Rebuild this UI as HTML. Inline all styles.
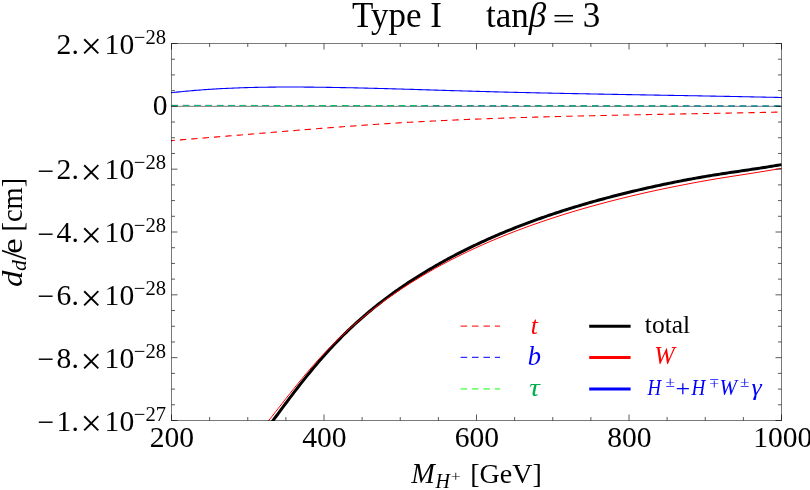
<!DOCTYPE html>
<html><head><meta charset="utf-8"><title>plot</title>
<style>
html,body{margin:0;padding:0;background:#fff;overflow:hidden}
svg{display:block;will-change:transform}
text{font-family:"Liberation Serif",serif;fill:#000}
.i{font-style:italic}
</style></head><body>
<svg width="810" height="490" viewBox="0 0 810 490">
<rect x="0" y="0" width="810" height="490" fill="#fff"/>
<defs><clipPath id="cp"><rect x="171.00" y="43.00" width="611.00" height="378.00"/></clipPath></defs>

<g clip-path="url(#cp)" fill="none">
<line x1="171.50" y1="106.33" x2="781.50" y2="106.33" stroke="#000" stroke-opacity="0.52" stroke-width="1"/>
<polyline points="171.00,92.76 173.00,92.53 175.00,92.32 177.00,92.10 179.00,91.89 181.00,91.69 183.00,91.49 185.00,91.30 187.00,91.11 189.00,90.93 191.00,90.76 193.00,90.58 195.00,90.42 197.00,90.25 199.00,90.10 201.00,89.94 203.00,89.80 205.00,89.65 207.00,89.51 209.00,89.38 211.00,89.25 213.00,89.12 215.00,89.00 217.00,88.88 219.00,88.77 221.00,88.66 223.00,88.56 225.00,88.46 227.00,88.36 229.00,88.27 231.00,88.18 233.00,88.09 235.00,88.01 237.00,87.94 239.00,87.86 241.00,87.79 243.00,87.72 245.00,87.66 247.00,87.60 249.00,87.54 251.00,87.49 253.00,87.44 255.00,87.39 257.00,87.35 259.00,87.31 261.00,87.27 263.00,87.24 265.00,87.21 267.00,87.18 269.00,87.15 271.00,87.13 273.00,87.11 275.00,87.09 277.00,87.07 279.00,87.06 281.00,87.05 283.00,87.04 285.00,87.03 287.00,87.03 289.00,87.03 291.00,87.03 293.00,87.03 295.00,87.04 297.00,87.04 299.00,87.05 301.00,87.06 303.00,87.07 305.00,87.09 307.00,87.10 309.00,87.12 311.00,87.14 313.00,87.16 315.00,87.18 317.00,87.20 319.00,87.23 321.00,87.25 323.00,87.28 325.00,87.31 327.00,87.34 329.00,87.37 331.00,87.40 333.00,87.43 335.00,87.47 337.00,87.50 339.00,87.54 341.00,87.58 343.00,87.61 345.00,87.65 347.00,87.69 349.00,87.74 351.00,87.78 353.00,87.82 355.00,87.86 357.00,87.91 359.00,87.95 361.00,88.00 363.00,88.05 365.00,88.10 367.00,88.14 369.00,88.19 371.00,88.24 373.00,88.29 375.00,88.35 377.00,88.40 379.00,88.45 381.00,88.50 383.00,88.56 385.00,88.61 387.00,88.67 389.00,88.72 391.00,88.78 393.00,88.84 395.00,88.89 397.00,88.95 399.00,89.01 401.00,89.07 403.00,89.13 405.00,89.18 407.00,89.24 409.00,89.30 411.00,89.36 413.00,89.42 415.00,89.48 417.00,89.54 419.00,89.60 421.00,89.66 423.00,89.73 425.00,89.79 427.00,89.85 429.00,89.91 431.00,89.97 433.00,90.03 435.00,90.09 437.00,90.15 439.00,90.22 441.00,90.28 443.00,90.34 445.00,90.40 447.00,90.46 449.00,90.52 451.00,90.58 453.00,90.64 455.00,90.70 457.00,90.76 459.00,90.82 461.00,90.88 463.00,90.94 465.00,91.00 467.00,91.06 469.00,91.12 471.00,91.17 473.00,91.23 475.00,91.29 477.00,91.34 479.00,91.40 481.00,91.46 483.00,91.51 485.00,91.57 487.00,91.62 489.00,91.67 491.00,91.73 493.00,91.78 495.00,91.83 497.00,91.88 499.00,91.93 501.00,91.99 503.00,92.04 505.00,92.09 507.00,92.14 509.00,92.19 511.00,92.23 513.00,92.28 515.00,92.33 517.00,92.38 519.00,92.43 521.00,92.47 523.00,92.52 525.00,92.57 527.00,92.61 529.00,92.66 531.00,92.71 533.00,92.75 535.00,92.80 537.00,92.84 539.00,92.88 541.00,92.93 543.00,92.97 545.00,93.01 547.00,93.06 549.00,93.10 551.00,93.14 553.00,93.18 555.00,93.23 557.00,93.27 559.00,93.31 561.00,93.35 563.00,93.39 565.00,93.43 567.00,93.47 569.00,93.51 571.00,93.55 573.00,93.59 575.00,93.63 577.00,93.67 579.00,93.71 581.00,93.75 583.00,93.79 585.00,93.82 587.00,93.86 589.00,93.90 591.00,93.94 593.00,93.98 595.00,94.01 597.00,94.05 599.00,94.09 601.00,94.12 603.00,94.16 605.00,94.20 607.00,94.23 609.00,94.27 611.00,94.31 613.00,94.34 615.00,94.38 617.00,94.41 619.00,94.45 621.00,94.49 623.00,94.52 625.00,94.56 627.00,94.59 629.00,94.63 631.00,94.66 633.00,94.70 635.00,94.73 637.00,94.77 639.00,94.80 641.00,94.84 643.00,94.87 645.00,94.91 647.00,94.94 649.00,94.98 651.00,95.01 653.00,95.05 655.00,95.08 657.00,95.12 659.00,95.15 661.00,95.19 663.00,95.22 665.00,95.26 667.00,95.29 669.00,95.33 671.00,95.36 673.00,95.40 675.00,95.43 677.00,95.47 679.00,95.50 681.00,95.54 683.00,95.57 685.00,95.61 687.00,95.64 689.00,95.68 691.00,95.72 693.00,95.75 695.00,95.79 697.00,95.82 699.00,95.86 701.00,95.89 703.00,95.93 705.00,95.97 707.00,96.00 709.00,96.04 711.00,96.08 713.00,96.11 715.00,96.15 717.00,96.19 719.00,96.23 721.00,96.26 723.00,96.30 725.00,96.34 727.00,96.38 729.00,96.42 731.00,96.45 733.00,96.49 735.00,96.53 737.00,96.57 739.00,96.61 741.00,96.65 743.00,96.69 745.00,96.73 747.00,96.77 749.00,96.81 751.00,96.85 753.00,96.89 755.00,96.93 757.00,96.97 759.00,97.01 761.00,97.06 763.00,97.10 765.00,97.14 767.00,97.18 769.00,97.23 771.00,97.27 773.00,97.31 775.00,97.36 777.00,97.40 779.00,97.45 782.00,97.52" stroke="#00f" stroke-width="1.1"/>
<line x1="171.50" y1="105.38" x2="781.50" y2="106.0" stroke="#00f" stroke-width="1.0" stroke-dasharray="6.4 4.965"/>
<line x1="171.50" y1="105.45" x2="781.50" y2="106.05" stroke="#08d450" stroke-width="1.15" stroke-dasharray="6.4 4.965" opacity="0.9"/>
<polyline points="171.00,140.62 173.00,140.46 175.00,140.30 177.00,140.15 179.00,139.99 181.00,139.83 183.00,139.67 185.00,139.51 187.00,139.35 189.00,139.19 191.00,139.03 193.00,138.87 195.00,138.71 197.00,138.55 199.00,138.39 201.00,138.23 203.00,138.06 205.00,137.90 207.00,137.74 209.00,137.57 211.00,137.41 213.00,137.24 215.00,137.08 217.00,136.92 219.00,136.75 221.00,136.59 223.00,136.42 225.00,136.25 227.00,136.09 229.00,135.92 231.00,135.76 233.00,135.59 235.00,135.42 237.00,135.26 239.00,135.09 241.00,134.93 243.00,134.76 245.00,134.59 247.00,134.43 249.00,134.26 251.00,134.09 253.00,133.93 255.00,133.76 257.00,133.59 259.00,133.43 261.00,133.26 263.00,133.09 265.00,132.93 267.00,132.76 269.00,132.60 271.00,132.43 273.00,132.27 275.00,132.10 277.00,131.94 279.00,131.77 281.00,131.61 283.00,131.44 285.00,131.28 287.00,131.11 289.00,130.95 291.00,130.79 293.00,130.62 295.00,130.46 297.00,130.30 299.00,130.14 301.00,129.98 303.00,129.82 305.00,129.66 307.00,129.50 309.00,129.34 311.00,129.18 313.00,129.02 315.00,128.86 317.00,128.70 319.00,128.55 321.00,128.39 323.00,128.23 325.00,128.08 327.00,127.92 329.00,127.77 331.00,127.62 333.00,127.46 335.00,127.31 337.00,127.16 339.00,127.01 341.00,126.86 343.00,126.71 345.00,126.56 347.00,126.41 349.00,126.27 351.00,126.12 353.00,125.98 355.00,125.83 357.00,125.69 359.00,125.54 361.00,125.40 363.00,125.26 365.00,125.12 367.00,124.98 369.00,124.84 371.00,124.70 373.00,124.57 375.00,124.43 377.00,124.30 379.00,124.16 381.00,124.03 383.00,123.90 385.00,123.77 387.00,123.64 389.00,123.51 391.00,123.38 393.00,123.26 395.00,123.13 397.00,123.01 399.00,122.88 401.00,122.76 403.00,122.65 405.00,122.53 407.00,122.42 409.00,122.31 411.00,122.19 413.00,122.08 415.00,121.97 417.00,121.87 419.00,121.76 421.00,121.65 423.00,121.55 425.00,121.44 427.00,121.34 429.00,121.24 431.00,121.14 433.00,121.04 435.00,120.94 437.00,120.84 439.00,120.74 441.00,120.65 443.00,120.55 445.00,120.46 447.00,120.37 449.00,120.27 451.00,120.18 453.00,120.09 455.00,120.00 457.00,119.92 459.00,119.83 461.00,119.74 463.00,119.66 465.00,119.57 467.00,119.49 469.00,119.41 471.00,119.33 473.00,119.25 475.00,119.17 477.00,119.09 479.00,119.01 481.00,118.93 483.00,118.85 485.00,118.78 487.00,118.70 489.00,118.63 491.00,118.56 493.00,118.48 495.00,118.41 497.00,118.34 499.00,118.27 501.00,118.20 503.00,118.13 505.00,118.07 507.00,118.00 509.00,117.93 511.00,117.87 513.00,117.80 515.00,117.74 517.00,117.67 519.00,117.61 521.00,117.55 523.00,117.49 525.00,117.43 527.00,117.37 529.00,117.31 531.00,117.25 533.00,117.19 535.00,117.13 537.00,117.08 539.00,117.02 541.00,116.96 543.00,116.91 545.00,116.86 547.00,116.80 549.00,116.75 551.00,116.70 553.00,116.64 555.00,116.59 557.00,116.54 559.00,116.49 561.00,116.44 563.00,116.39 565.00,116.34 567.00,116.29 569.00,116.25 571.00,116.20 573.00,116.15 575.00,116.10 577.00,116.06 579.00,116.01 581.00,115.97 583.00,115.92 585.00,115.88 587.00,115.84 589.00,115.79 591.00,115.75 593.00,115.71 595.00,115.66 597.00,115.62 599.00,115.58 601.00,115.54 603.00,115.49 605.00,115.45 607.00,115.41 609.00,115.36 611.00,115.32 613.00,115.28 615.00,115.23 617.00,115.19 619.00,115.15 621.00,115.11 623.00,115.07 625.00,115.03 627.00,114.99 629.00,114.94 631.00,114.90 633.00,114.86 635.00,114.82 637.00,114.78 639.00,114.75 641.00,114.71 643.00,114.67 645.00,114.63 647.00,114.59 649.00,114.55 651.00,114.51 653.00,114.48 655.00,114.44 657.00,114.40 659.00,114.36 661.00,114.33 663.00,114.29 665.00,114.25 667.00,114.21 669.00,114.18 671.00,114.14 673.00,114.10 675.00,114.07 677.00,114.03 679.00,113.99 681.00,113.96 683.00,113.92 685.00,113.88 687.00,113.85 689.00,113.81 691.00,113.78 693.00,113.74 695.00,113.70 697.00,113.67 699.00,113.63 701.00,113.59 703.00,113.56 705.00,113.52 707.00,113.49 709.00,113.45 711.00,113.41 713.00,113.38 715.00,113.34 717.00,113.30 719.00,113.27 721.00,113.23 723.00,113.19 725.00,113.15 727.00,113.12 729.00,113.08 731.00,113.04 733.00,113.00 735.00,112.97 737.00,112.93 739.00,112.89 741.00,112.85 743.00,112.81 745.00,112.77 747.00,112.74 749.00,112.70 751.00,112.66 753.00,112.62 755.00,112.58 757.00,112.54 759.00,112.50 761.00,112.46 763.00,112.42 765.00,112.38 767.00,112.33 769.00,112.29 771.00,112.25 773.00,112.21 775.00,112.17 777.00,112.12 779.00,112.08 782.00,112.01" stroke="#f00" stroke-width="1.1" stroke-dasharray="6.4 4.985" stroke-dashoffset="2.5"/>
<polyline points="262.00,435.41 264.00,432.74 266.00,430.05 268.00,427.35 270.00,424.64 272.00,421.93 274.00,419.21 276.00,416.50 278.00,413.79 280.00,411.09 282.00,408.39 284.00,405.70 286.00,403.02 288.00,400.35 290.00,397.70 292.00,395.07 294.00,392.44 296.00,389.84 298.00,387.26 300.00,384.70 302.00,382.15 304.00,379.63 306.00,377.13 308.00,374.66 310.00,372.21 312.00,369.78 314.00,367.38 316.00,365.00 318.00,362.65 320.00,360.33 322.00,358.03 324.00,355.76 326.00,353.52 328.00,351.30 330.00,349.11 332.00,346.95 334.00,344.81 336.00,342.71 338.00,340.63 340.00,338.58 342.00,336.55 344.00,334.56 346.00,332.59 348.00,330.65 350.00,328.73 352.00,326.85 354.00,324.99 356.00,323.15 358.00,321.34 360.00,319.56 362.00,317.80 364.00,316.06 366.00,314.35 368.00,312.65 370.00,310.99 372.00,309.34 374.00,307.71 376.00,306.10 378.00,304.52 380.00,302.95 382.00,301.40 384.00,299.87 386.00,298.36 388.00,296.87 390.00,295.39 392.00,293.94 394.00,292.49 396.00,291.07 398.00,289.66 400.00,288.27 402.00,286.89 404.00,285.53 406.00,284.18 408.00,282.85 410.00,281.53 412.00,280.23 414.00,278.94 416.00,277.66 418.00,276.40 420.00,275.15 422.00,273.92 424.00,272.69 426.00,271.48 428.00,270.28 430.00,269.10 432.00,267.92 434.00,266.76 436.00,265.60 438.00,264.46 440.00,263.33 442.00,262.21 444.00,261.11 446.00,260.01 448.00,258.92 450.00,257.84 452.00,256.78 454.00,255.72 456.00,254.68 458.00,253.64 460.00,252.61 462.00,251.60 464.00,250.59 466.00,249.59 468.00,248.60 470.00,247.62 472.00,246.65 474.00,245.69 476.00,244.74 478.00,243.80 480.00,242.86 482.00,241.94 484.00,241.02 486.00,240.11 488.00,239.21 490.00,238.32 492.00,237.44 494.00,236.56 496.00,235.69 498.00,234.84 500.00,233.98 502.00,233.14 504.00,232.30 506.00,231.48 508.00,230.65 510.00,229.84 512.00,229.04 514.00,228.24 516.00,227.44 518.00,226.66 520.00,225.88 522.00,225.11 524.00,224.35 526.00,223.59 528.00,222.84 530.00,222.10 532.00,221.36 534.00,220.63 536.00,219.91 538.00,219.19 540.00,218.48 542.00,217.77 544.00,217.07 546.00,216.38 548.00,215.69 550.00,215.01 552.00,214.34 554.00,213.67 556.00,213.01 558.00,212.35 560.00,211.70 562.00,211.05 564.00,210.41 566.00,209.78 568.00,209.15 570.00,208.52 572.00,207.90 574.00,207.29 576.00,206.68 578.00,206.08 580.00,205.48 582.00,204.89 584.00,204.30 586.00,203.71 588.00,203.14 590.00,202.56 592.00,201.99 594.00,201.43 596.00,200.87 598.00,200.32 600.00,199.77 602.00,199.22 604.00,198.68 606.00,198.14 608.00,197.61 610.00,197.08 612.00,196.56 614.00,196.04 616.00,195.52 618.00,195.01 620.00,194.51 622.00,194.00 624.00,193.51 626.00,193.01 628.00,192.52 630.00,192.03 632.00,191.55 634.00,191.07 636.00,190.60 638.00,190.13 640.00,189.66 642.00,189.19 644.00,188.73 646.00,188.28 648.00,187.83 650.00,187.38 652.00,186.93 654.00,186.49 656.00,186.05 658.00,185.62 660.00,185.19 662.00,184.77 664.00,184.34 666.00,183.93 668.00,183.51 670.00,183.10 672.00,182.70 674.00,182.29 676.00,181.90 678.00,181.50 680.00,181.11 682.00,180.72 684.00,180.34 686.00,179.96 688.00,179.59 690.00,179.22 692.00,178.85 694.00,178.49 696.00,178.13 698.00,177.77 700.00,177.42 702.00,177.07 704.00,176.73 706.00,176.39 708.00,176.05 710.00,175.72 712.00,175.39 714.00,175.07 716.00,174.75 718.00,174.43 720.00,174.11 722.00,173.80 724.00,173.50 726.00,173.19 728.00,172.89 730.00,172.59 732.00,172.29 734.00,172.00 736.00,171.70 738.00,171.41 740.00,171.11 742.00,170.82 744.00,170.52 746.00,170.23 748.00,169.93 750.00,169.63 752.00,169.33 754.00,169.03 756.00,168.73 758.00,168.42 760.00,168.12 762.00,167.81 764.00,167.49 766.00,167.18 768.00,166.86 770.00,166.54 772.00,166.21 774.00,165.88 776.00,165.55 778.00,165.21 780.00,164.87 781.50,164.61" stroke="#000" stroke-width="3"/>
<polyline points="262.00,428.90 264.00,426.42 266.00,423.93 268.00,421.42 270.00,418.90 272.00,416.38 274.00,413.83 276.00,411.26 278.00,408.70 280.00,406.13 282.00,403.57 284.00,401.02 286.00,398.47 288.00,395.93 290.00,393.41 292.00,390.90 294.00,388.40 296.00,385.91 298.00,383.45 300.00,381.00 302.00,378.57 304.00,376.16 306.00,373.77 308.00,371.40 310.00,369.06 312.00,366.76 314.00,364.51 316.00,362.29 318.00,360.09 320.00,357.92 322.00,355.77 324.00,353.64 326.00,351.54 328.00,349.47 330.00,347.42 332.00,345.40 334.00,343.40 336.00,341.43 338.00,339.48 340.00,337.56 342.00,335.67 344.00,333.80 346.00,331.96 348.00,330.14 350.00,328.35 352.00,326.59 354.00,324.85 356.00,323.12 358.00,321.40 360.00,319.71 362.00,318.03 364.00,316.38 366.00,314.75 368.00,313.15 370.00,311.56 372.00,309.99 374.00,308.44 376.00,306.91 378.00,305.40 380.00,303.90 382.00,302.43 384.00,300.97 386.00,299.53 388.00,298.10 390.00,296.69 392.00,295.29 394.00,293.92 396.00,292.55 398.00,291.20 400.00,289.87 402.00,288.54 404.00,287.23 406.00,285.93 408.00,284.65 410.00,283.37 412.00,282.11 414.00,280.87 416.00,279.63 418.00,278.41 420.00,277.20 422.00,276.00 424.00,274.82 426.00,273.64 428.00,272.47 430.00,271.32 432.00,270.18 434.00,269.04 436.00,267.92 438.00,266.81 440.00,265.71 442.00,264.63 444.00,263.56 446.00,262.51 448.00,261.46 450.00,260.42 452.00,259.39 454.00,258.37 456.00,257.36 458.00,256.36 460.00,255.37 462.00,254.38 464.00,253.41 466.00,252.44 468.00,251.49 470.00,250.54 472.00,249.60 474.00,248.67 476.00,247.75 478.00,246.84 480.00,245.93 482.00,245.04 484.00,244.15 486.00,243.27 488.00,242.40 490.00,241.54 492.00,240.68 494.00,239.83 496.00,238.99 498.00,238.16 500.00,237.34 502.00,236.52 504.00,235.71 506.00,234.91 508.00,234.11 510.00,233.32 512.00,232.54 514.00,231.77 516.00,231.00 518.00,230.24 520.00,229.48 522.00,228.74 524.00,228.00 526.00,227.26 528.00,226.53 530.00,225.81 532.00,225.10 534.00,224.39 536.00,223.68 538.00,222.99 540.00,222.30 542.00,221.61 544.00,220.93 546.00,220.25 548.00,219.58 550.00,218.91 552.00,218.25 554.00,217.60 556.00,216.95 558.00,216.31 560.00,215.67 562.00,215.04 564.00,214.41 566.00,213.79 568.00,213.17 570.00,212.56 572.00,211.95 574.00,211.35 576.00,210.76 578.00,210.16 580.00,209.58 582.00,209.00 584.00,208.42 586.00,207.85 588.00,207.28 590.00,206.71 592.00,206.16 594.00,205.60 596.00,205.05 598.00,204.51 600.00,203.97 602.00,203.43 604.00,202.90 606.00,202.37 608.00,201.84 610.00,201.32 612.00,200.81 614.00,200.29 616.00,199.79 618.00,199.28 620.00,198.78 622.00,198.28 624.00,197.79 626.00,197.30 628.00,196.82 630.00,196.34 632.00,195.86 634.00,195.39 636.00,194.92 638.00,194.45 640.00,193.99 642.00,193.53 644.00,193.07 646.00,192.62 648.00,192.17 650.00,191.73 652.00,191.29 654.00,190.85 656.00,190.41 658.00,189.98 660.00,189.56 662.00,189.14 664.00,188.72 666.00,188.30 668.00,187.89 670.00,187.48 672.00,187.08 674.00,186.68 676.00,186.28 678.00,185.89 680.00,185.50 682.00,185.10 684.00,184.71 686.00,184.32 688.00,183.93 690.00,183.55 692.00,183.17 694.00,182.79 696.00,182.42 698.00,182.05 700.00,181.69 702.00,181.33 704.00,180.97 706.00,180.61 708.00,180.26 710.00,179.92 712.00,179.58 714.00,179.24 716.00,178.90 718.00,178.57 720.00,178.24 722.00,177.92 724.00,177.60 726.00,177.28 728.00,176.97 730.00,176.65 732.00,176.34 734.00,176.03 736.00,175.72 738.00,175.41 740.00,175.10 742.00,174.79 744.00,174.48 746.00,174.17 748.00,173.86 750.00,173.55 752.00,173.23 754.00,172.92 756.00,172.60 758.00,172.28 760.00,171.96 762.00,171.63 764.00,171.31 766.00,170.98 768.00,170.64 770.00,170.31 772.00,169.97 774.00,169.62 776.00,169.27 778.00,168.92 780.00,168.57 781.50,168.30" stroke="#f00" stroke-width="1.0"/>
</g>
<g stroke="#000" stroke-opacity="0.52" stroke-width="1" fill="none">
<rect x="171.50" y="43.50" width="610.00" height="377.00"/>
<path stroke-width="0.9" stroke-opacity="0.72" d="M171.50 420.50v-6.00M171.50 43.50v6.00"/>
<path stroke-width="0.9" stroke-opacity="0.72" d="M209.62 420.50v-3.50M209.62 43.50v3.50"/>
<path stroke-width="0.9" stroke-opacity="0.72" d="M247.75 420.50v-3.50M247.75 43.50v3.50"/>
<path stroke-width="0.9" stroke-opacity="0.72" d="M285.88 420.50v-3.50M285.88 43.50v3.50"/>
<path stroke-width="0.9" stroke-opacity="0.72" d="M324.00 420.50v-6.00M324.00 43.50v6.00"/>
<path stroke-width="0.9" stroke-opacity="0.72" d="M362.12 420.50v-3.50M362.12 43.50v3.50"/>
<path stroke-width="0.9" stroke-opacity="0.72" d="M400.25 420.50v-3.50M400.25 43.50v3.50"/>
<path stroke-width="0.9" stroke-opacity="0.72" d="M438.38 420.50v-3.50M438.38 43.50v3.50"/>
<path stroke-width="0.9" stroke-opacity="0.72" d="M476.50 420.50v-6.00M476.50 43.50v6.00"/>
<path stroke-width="0.9" stroke-opacity="0.72" d="M514.62 420.50v-3.50M514.62 43.50v3.50"/>
<path stroke-width="0.9" stroke-opacity="0.72" d="M552.75 420.50v-3.50M552.75 43.50v3.50"/>
<path stroke-width="0.9" stroke-opacity="0.72" d="M590.88 420.50v-3.50M590.88 43.50v3.50"/>
<path stroke-width="0.9" stroke-opacity="0.72" d="M629.00 420.50v-6.00M629.00 43.50v6.00"/>
<path stroke-width="0.9" stroke-opacity="0.72" d="M667.12 420.50v-3.50M667.12 43.50v3.50"/>
<path stroke-width="0.9" stroke-opacity="0.72" d="M705.25 420.50v-3.50M705.25 43.50v3.50"/>
<path stroke-width="0.9" stroke-opacity="0.72" d="M743.38 420.50v-3.50M743.38 43.50v3.50"/>
<path stroke-width="0.9" stroke-opacity="0.72" d="M781.50 420.50v-6.00M781.50 43.50v6.00"/>
<path stroke-width="0.9" stroke-opacity="0.72" d="M171.50 43.50h6.00M781.50 43.50h-6.00"/>
<path stroke-width="0.9" stroke-opacity="0.72" d="M171.50 59.21h3.50M781.50 59.21h-3.50"/>
<path stroke-width="0.9" stroke-opacity="0.72" d="M171.50 74.92h3.50M781.50 74.92h-3.50"/>
<path stroke-width="0.9" stroke-opacity="0.72" d="M171.50 90.62h3.50M781.50 90.62h-3.50"/>
<path stroke-width="0.9" stroke-opacity="0.72" d="M171.50 106.33h6.00M781.50 106.33h-6.00"/>
<path stroke-width="0.9" stroke-opacity="0.72" d="M171.50 122.04h3.50M781.50 122.04h-3.50"/>
<path stroke-width="0.9" stroke-opacity="0.72" d="M171.50 137.75h3.50M781.50 137.75h-3.50"/>
<path stroke-width="0.9" stroke-opacity="0.72" d="M171.50 153.46h3.50M781.50 153.46h-3.50"/>
<path stroke-width="0.9" stroke-opacity="0.72" d="M171.50 169.17h6.00M781.50 169.17h-6.00"/>
<path stroke-width="0.9" stroke-opacity="0.72" d="M171.50 184.88h3.50M781.50 184.88h-3.50"/>
<path stroke-width="0.9" stroke-opacity="0.72" d="M171.50 200.58h3.50M781.50 200.58h-3.50"/>
<path stroke-width="0.9" stroke-opacity="0.72" d="M171.50 216.29h3.50M781.50 216.29h-3.50"/>
<path stroke-width="0.9" stroke-opacity="0.72" d="M171.50 232.00h6.00M781.50 232.00h-6.00"/>
<path stroke-width="0.9" stroke-opacity="0.72" d="M171.50 247.71h3.50M781.50 247.71h-3.50"/>
<path stroke-width="0.9" stroke-opacity="0.72" d="M171.50 263.42h3.50M781.50 263.42h-3.50"/>
<path stroke-width="0.9" stroke-opacity="0.72" d="M171.50 279.12h3.50M781.50 279.12h-3.50"/>
<path stroke-width="0.9" stroke-opacity="0.72" d="M171.50 294.83h6.00M781.50 294.83h-6.00"/>
<path stroke-width="0.9" stroke-opacity="0.72" d="M171.50 310.54h3.50M781.50 310.54h-3.50"/>
<path stroke-width="0.9" stroke-opacity="0.72" d="M171.50 326.25h3.50M781.50 326.25h-3.50"/>
<path stroke-width="0.9" stroke-opacity="0.72" d="M171.50 341.96h3.50M781.50 341.96h-3.50"/>
<path stroke-width="0.9" stroke-opacity="0.72" d="M171.50 357.67h6.00M781.50 357.67h-6.00"/>
<path stroke-width="0.9" stroke-opacity="0.72" d="M171.50 373.38h3.50M781.50 373.38h-3.50"/>
<path stroke-width="0.9" stroke-opacity="0.72" d="M171.50 389.08h3.50M781.50 389.08h-3.50"/>
<path stroke-width="0.9" stroke-opacity="0.72" d="M171.50 404.79h3.50M781.50 404.79h-3.50"/>
<path stroke-width="0.9" stroke-opacity="0.72" d="M171.50 420.50h6.00M781.50 420.50h-6.00"/>
</g>
<text transform="translate(0,447.0) scale(1,1.01)" x="171.90" y="0" font-size="29.6" text-anchor="middle">200</text>
<text transform="translate(0,447.0) scale(1,1.01)" x="324.40" y="0" font-size="29.6" text-anchor="middle">400</text>
<text transform="translate(0,447.0) scale(1,1.01)" x="476.90" y="0" font-size="29.6" text-anchor="middle">600</text>
<text transform="translate(0,447.0) scale(1,1.01)" x="629.40" y="0" font-size="29.6" text-anchor="middle">800</text>
<text transform="translate(0,447.0) scale(1,1.01)" x="782.80" y="0" font-size="29.6" text-anchor="middle">1000</text>
<text transform="translate(0,53.80) scale(1,1.0)" y="0" font-size="29.6"><tspan x="56.6" dy="0">2.</tspan><tspan x="80.5" dy="5.6" font-size="38">×</tspan><tspan x="104.6" dy="-5.6">10</tspan><tspan x="133.8" dy="-10.0" font-size="20.6">−28</tspan></text>
<text transform="translate(0,114.63) scale(1,1.01)" x="167.6" y="0" font-size="29.6" text-anchor="end">0</text>
<text transform="translate(0,179.47) scale(1,1.0)" y="0" font-size="29.6"><tspan x="37.6" dy="1.2">−</tspan><tspan x="56.6" dy="-1.2">2.</tspan><tspan x="80.5" dy="5.6" font-size="38">×</tspan><tspan x="104.6" dy="-5.6">10</tspan><tspan x="133.8" dy="-10.0" font-size="20.6">−28</tspan></text>
<text transform="translate(0,242.30) scale(1,1.0)" y="0" font-size="29.6"><tspan x="37.6" dy="1.2">−</tspan><tspan x="56.6" dy="-1.2">4.</tspan><tspan x="80.5" dy="5.6" font-size="38">×</tspan><tspan x="104.6" dy="-5.6">10</tspan><tspan x="133.8" dy="-10.0" font-size="20.6">−28</tspan></text>
<text transform="translate(0,305.13) scale(1,1.0)" y="0" font-size="29.6"><tspan x="37.6" dy="1.2">−</tspan><tspan x="56.6" dy="-1.2">6.</tspan><tspan x="80.5" dy="5.6" font-size="38">×</tspan><tspan x="104.6" dy="-5.6">10</tspan><tspan x="133.8" dy="-10.0" font-size="20.6">−28</tspan></text>
<text transform="translate(0,367.97) scale(1,1.0)" y="0" font-size="29.6"><tspan x="37.6" dy="1.2">−</tspan><tspan x="56.6" dy="-1.2">8.</tspan><tspan x="80.5" dy="5.6" font-size="38">×</tspan><tspan x="104.6" dy="-5.6">10</tspan><tspan x="133.8" dy="-10.0" font-size="20.6">−28</tspan></text>
<text transform="translate(0,430.80) scale(1,1.0)" y="0" font-size="29.6"><tspan x="37.6" dy="1.2">−</tspan><tspan x="56.6" dy="-1.2">1.</tspan><tspan x="80.5" dy="5.6" font-size="38">×</tspan><tspan x="104.6" dy="-5.6">10</tspan><tspan x="133.8" dy="-10.0" font-size="20.6">−27</tspan></text>
<text x="352" y="26.5" font-size="35" xml:space="preserve">Type I</text>
<text x="486" y="26.5" font-size="35" xml:space="preserve">tan<tspan class="i">β</tspan></text>
<text x="582.7" y="26.5" font-size="35">3</text>
<line x1="460.6" y1="326.1" x2="500" y2="326.1" stroke="#f00" stroke-width="1.2" stroke-dasharray="6.6 4.8" opacity="0.8"/>
<line x1="460.6" y1="357.4" x2="500" y2="357.4" stroke="#00f" stroke-width="1.2" stroke-dasharray="6.6 4.8" opacity="0.8"/>
<line x1="460.6" y1="388.9" x2="500" y2="388.9" stroke="#5f5" stroke-width="1.6" stroke-dasharray="6.6 4.8" opacity="0.8"/>
<line x1="589.2" y1="326.3" x2="630.6" y2="326.3" stroke="#000" stroke-width="3"/>
<line x1="589.2" y1="357.5" x2="630.6" y2="357.5" stroke="#f00" stroke-width="3"/>
<line x1="589.2" y1="389.0" x2="630.6" y2="389.0" stroke="#00f" stroke-width="3"/>
<text x="534.4" y="333.6" font-size="25.5" class="i" text-anchor="middle" style="fill:#f00">t</text>
<text x="534.3" y="364.8" font-size="26.5" class="i" text-anchor="middle" style="fill:#00f">b</text>
<text x="644.8" y="332.7" font-size="25.5">total</text>
<text x="654.3" y="363.8" font-size="24.6" class="i" style="fill:#f00">W</text>
<text transform="translate(647.40,395.40) scale(0.8217,1.0000)" font-size="23" class="i" style="fill:#00f">H</text>
<text transform="translate(665.39,387.20) scale(1.1461,0.9200)" font-size="15"  style="fill:#00f">±</text>
<text transform="translate(675.60,396.20) scale(1.0835,1.0000)" font-size="24"  style="fill:#00f">+</text>
<text transform="translate(691.61,395.40) scale(0.8329,1.0000)" font-size="23" class="i" style="fill:#00f">H</text>
<g transform="rotate(180 714.25 383.30)"><text transform="translate(709.48,387.20) scale(1.1605,0.9200)" font-size="15"  style="fill:#00f">±</text></g>
<text transform="translate(719.62,395.40) scale(0.9131,1.0000)" font-size="23" class="i" style="fill:#00f">W</text>
<text transform="translate(739.99,387.20) scale(1.1461,0.9200)" font-size="15"  style="fill:#00f">±</text>
<text transform="translate(751.53,395.40) scale(1.1253,1.0000)" font-size="23" class="i" style="fill:#00f">γ</text>
<text transform="translate(411.23,482.65) scale(0.9928,1.0000)" font-size="28.5" class="i" style="fill:#000">M</text>
<text transform="translate(435.52,487.60) scale(0.9880,1.0000)" font-size="20.3" class="i" style="fill:#000">H</text>
<text transform="translate(451.05,481.00) scale(1.0953,1.0000)" font-size="15.5"  style="fill:#000">+</text>
<text x="470.2" y="482.75" font-size="28" >[GeV]</text>
<text transform="translate(529.15,396.00) scale(1.1565,1.0000)" font-size="25.5" class="i" style="fill:#00b050">τ</text>
<text transform="translate(552.62,28.66) scale(1.1359,0.8400)" font-size="35"  style="fill:#000">=</text>
<g transform="rotate(-90)">
<text transform="translate(-286.89,21.50) scale(1.1247,1.0000)" font-size="29" class="i" style="fill:#000">d</text>
<text transform="translate(-270.96,26.30) scale(1.0907,1.0000)" font-size="20" class="i" style="fill:#000">d</text>
<text transform="translate(-259.80,26.00) scale(1.2287,1.2200)" font-size="29"  style="fill:#000">/</text>
<text transform="translate(-253.89,21.50) scale(1.2298,1.0000)" font-size="29"  style="fill:#000">e</text>
<text x="-231.52" y="21.5" font-size="28.5">[cm]</text>
</g>
</svg></body></html>
